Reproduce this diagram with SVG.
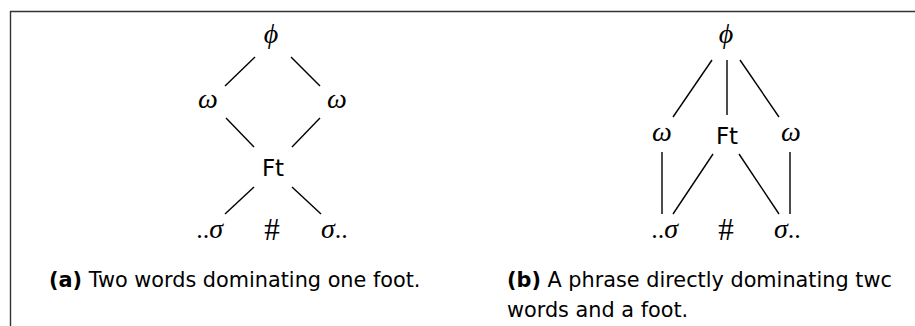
<svg xmlns="http://www.w3.org/2000/svg" width="915" height="326" viewBox="0 0 915 326">
<style>
.frame{fill:none;stroke:#333;stroke-width:1.4}
.edge{stroke:#000;stroke-width:1.4;fill:none}
.gk{font-family:"Liberation Serif",serif;font-style:italic;font-size:28px;fill:#000}
.sf{font-family:"DejaVu Sans",sans-serif;font-size:23px;fill:#000}
.dot{font-family:"Liberation Serif",serif;font-size:26px;fill:#000}
.hash{font-family:"Liberation Serif",serif;font-size:31px;fill:#000}
.cap{font-family:"DejaVu Sans",sans-serif;font-size:20.8px;fill:#000}
.b{font-weight:bold}
</style>
<rect width="915" height="326" fill="#fff"/>
<path class="frame" d="M10.5,330 V11.5 H920"/>
<g id="connectors">
  <line class="edge" x1="255" y1="57" x2="225" y2="86"/>
  <line class="edge" x1="291" y1="57" x2="320" y2="86"/>
  <line class="edge" x1="226" y1="118" x2="254" y2="147"/>
  <line class="edge" x1="320" y1="118" x2="292" y2="147"/>
  <line class="edge" x1="254" y1="187" x2="225" y2="214"/>
  <line class="edge" x1="292" y1="187" x2="321" y2="214"/>
  <line class="edge" x1="712" y1="60" x2="673" y2="117"/>
  <line class="edge" x1="727" y1="60" x2="727" y2="115"/>
  <line class="edge" x1="740" y1="60" x2="779" y2="117"/>
  <line class="edge" x1="662" y1="152" x2="662" y2="214"/>
  <line class="edge" x1="790" y1="152" x2="790" y2="214"/>
  <line class="edge" x1="713" y1="154" x2="673" y2="214"/>
  <line class="edge" x1="739" y1="154" x2="779" y2="214"/>
</g>
<g id="a-phi"><text class="gk" x="271" y="43" text-anchor="middle">ϕ</text></g>
<g id="a-omega-l"><text class="gk" x="208" y="108" text-anchor="middle">ω</text></g>
<g id="a-omega-r"><text class="gk" x="337" y="108" text-anchor="middle">ω</text></g>
<g id="a-ft"><text class="sf" x="273" y="176" text-anchor="middle">Ft</text></g>
<g id="a-sigma-l"><text class="gk" x="223" y="238" text-anchor="end"><tspan class="dot" font-style="normal">..</tspan>σ</text></g>
<g id="a-hash"><text class="hash" x="272" y="240" text-anchor="middle">#</text></g>
<g id="a-sigma-r"><text class="gk" x="321" y="238">σ<tspan class="dot" font-style="normal">..</tspan></text></g>
<g id="b-phi"><text class="gk" x="726" y="43" text-anchor="middle">ϕ</text></g>
<g id="b-omega-l"><text class="gk" x="662" y="141" text-anchor="middle">ω</text></g>
<g id="b-ft"><text class="sf" x="727" y="144" text-anchor="middle">Ft</text></g>
<g id="b-omega-r"><text class="gk" x="791" y="141" text-anchor="middle">ω</text></g>
<g id="b-sigma-l"><text class="gk" x="678" y="238" text-anchor="end"><tspan class="dot" font-style="normal">..</tspan>σ</text></g>
<g id="b-hash"><text class="hash" x="726" y="240" text-anchor="middle">#</text></g>
<g id="b-sigma-r"><text class="gk" x="774" y="238">σ<tspan class="dot" font-style="normal">..</tspan></text></g>
<g id="caption-a"><text class="cap" x="49" y="287"><tspan class="b">(a)</tspan> Two words dominating one foot.</text></g>
<g id="caption-b"><text class="cap" x="507" y="287"><tspan class="b">(b)</tspan> A phrase directly dominating twc</text><text class="cap" x="507" y="317">words and a foot.</text></g>
</svg>
